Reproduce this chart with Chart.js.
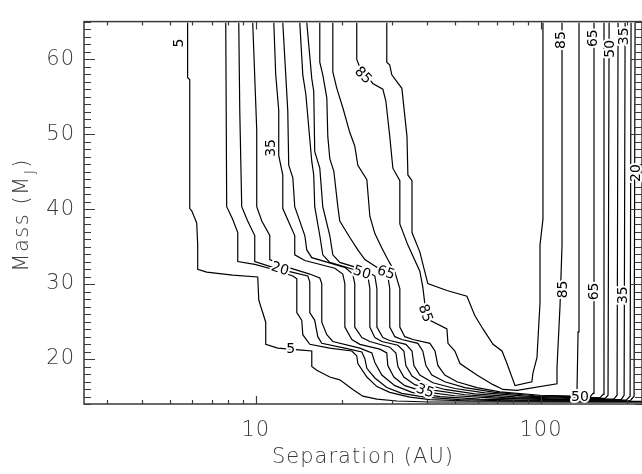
<!DOCTYPE html>
<html>
<head>
<meta charset="utf-8">
<script src="https://cdn.jsdelivr.net/npm/chart.js@4.4.1/dist/chart.umd.min.js"></script>
<style>
html, body { margin: 0; padding: 0; background: #fff; }
#chart { display: block; }
</style>
</head>
<body>
<canvas id="chart" width="642" height="474"></canvas>
<script>
// contour levels (percent) and their paths as [separation AU, mass MJ]
const levels = [5, 12.5, 20, 27.5, 35, 42.5, 50, 57.5, 65, 75, 85, 95];

const c5 = [[5.77,64.84],[5.77,57.52],[5.87,57.27],[5.87,40.06],[5.96,39.81],[6.21,38.14],[6.26,35.19],[6.26,31.97],[6.73,31.59],[8.30,31.2],[10.16,30.94],[10.25,27.86],[10.84,24.91],[10.84,21.96],[11.94,21.45],[14.5,21.19],[15.72,21.07],[15.72,19.01],[16.37,18.5],[18.18,17.6],[19.71,17.22],[21.89,15.94],[23.74,15.04],[26.59,14.65],[31.25,14.4],[40.8,14.27],[226,14.24]];
const c12_5 = [[7.85,64.84],[7.91,40.32],[8.30,38.65],[8.65,36.86],[8.65,33.0],[9.92,32.62],[11.47,31.97],[13.49,31.07],[13.93,30.69],[13.93,26.19],[14.5,25.16],[14.62,23.24],[15.47,21.96],[18.18,21.45],[21.72,21.07],[22.6,20.43],[22.8,19.4],[24.52,17.6],[26.59,16.32],[29.5,15.55],[34.7,14.91],[40.8,14.59],[56.4,14.4],[226,14.35]];
const c20 = [[8.72,64.84],[8.79,53.16],[8.93,40.32],[9.37,38.4],[9.92,36.47],[9.92,33.0],[11.2,32.36],[13.38,31.59],[15.22,31.07],[15.47,30.3],[15.47,26.19],[16.1,25.16],[16.5,22.98],[17.04,22.09],[20.53,21.45],[23.55,20.94],[24.13,20.04],[24.52,18.76],[26.16,17.47],[28.8,16.19],[32.53,15.42],[39.2,14.91],[52.0,14.59],[71.8,14.46],[205.3,14.43],[212,15.04],[213.7,64.84]];
const c27_5 = [[9.76,64.84],[10.08,50.59],[10.08,40.32],[10.5,38.4],[11.2,36.47],[11.2,33.26],[12.64,32.36],[15.47,31.33],[16.77,30.81],[17.04,30.05],[17.04,24.91],[17.75,23.24],[18.63,22.34],[23.17,21.45],[25.53,20.81],[26.16,19.53],[27.67,17.86],[30.74,16.45],[35.3,15.55],[44.2,14.98],[61.1,14.65],[84.4,14.51],[198.7,14.51],[205.3,15.04],[206.9,64.84]];
const c35 = [[11.57,64.84],[11.75,57.9],[12.04,53.16],[12.04,47.12],[12.44,44.55],[12.44,40.06],[13.7,36.47],[13.7,33.9],[14.86,33.13],[18.93,32.1],[20.19,31.33],[20.53,30.05],[20.53,24.27],[21.72,22.6],[23.17,21.96],[27.23,21.32],[28.8,20.81],[29.04,19.14],[30.5,17.6],[33.3,16.45],[39.2,15.62],[49.9,15.1],[69.0,14.78],[107.6,14.59],[190.9,14.59],[195.6,15.17],[197.2,64.84]];
const c42_5 = [[12.44,64.84],[12.74,57.9],[12.95,53.16],[13.05,45.84],[13.49,44.17],[13.7,40.32],[14.86,36.47],[15.1,34.55],[15.72,33.52],[20.53,32.23],[21.89,31.33],[22.24,30.05],[22.24,24.27],[23.55,22.85],[25.12,22.34],[29.5,21.58],[31.0,20.81],[31.5,19.01],[33.06,17.6],[36.1,16.58],[42.5,15.81],[54.1,15.23],[74.8,14.85],[116.6,14.67],[180.3,14.67],[184.8,15.17],[186.3,64.84]];
const c50 = [[14.27,64.84],[14.62,57.9],[14.98,55.34],[15.72,46.35],[15.97,44.55],[16.1,40.32],[16.77,36.47],[17.18,33.9],[18.18,32.88],[21.89,31.97],[24.72,31.07],[25.12,29.4],[25.12,24.27],[26.16,22.85],[27.67,22.34],[31.5,21.83],[33.06,21.07],[33.6,19.14],[35.3,17.73],[38.87,16.7],[46.0,15.94],[58.6,15.36],[81.1,14.94],[126.4,14.76],[167.7,14.76],[171.8,15.17],[173.3,64.84]];
const c57_5 = [[15.1,64.84],[15.72,57.39],[15.97,55.72],[16.1,47.64],[16.77,45.45],[17.18,40.32],[18.18,36.47],[18.63,33.9],[19.71,32.88],[24.13,31.85],[26.16,31.07],[26.59,29.4],[26.59,24.27],[27.9,22.85],[29.5,22.47],[33.6,21.96],[35.3,21.07],[35.85,19.14],[37.6,17.86],[41.8,16.83],[49.9,16.07],[63.6,15.49],[87.9,15.04],[131.5,14.85],[161.1,14.85],[165.1,15.29],[166.3,64.84]];
const c65 = [[16.77,64.84],[16.77,59.58],[17.18,57.9],[17.75,54.83],[17.89,49.69],[18.18,46.73],[18.78,45.07],[19.4,40.32],[19.71,38.4],[21.37,36.21],[22.8,34.55],[24.13,33.26],[27.23,31.97],[29.04,31.07],[29.5,29.4],[29.5,24.27],[30.74,22.98],[32.53,22.6],[37.0,22.09],[38.5,21.07],[39.5,19.14],[41.45,17.86],[46.0,16.96],[54.1,16.19],[69.0,15.55],[95.2,15.1],[137,14.94],[148.6,14.94],[152.2,15.42],[153.4,64.84]];
const c75 = [[18.63,64.84],[18.63,58.29],[19.24,56.1],[20.19,53.54],[21.37,50.2],[22.24,48.41],[22.8,45.84],[24.52,43.92],[25.12,39.04],[26.16,36.73],[27.67,34.8],[29.04,33.26],[30.74,31.59],[32.0,29.4],[32.0,24.27],[33.3,22.98],[35.6,22.6],[40.8,22.09],[42.5,21.07],[43.5,19.14],[46.0,17.86],[50.75,16.96],[59.6,16.19],[71.8,15.62],[99.2,15.17],[130.6,15.04],[133.7,15.55],[134.9,23.63],[135.9,64.84]];
const c85 = [[22.6,64.84],[22.6,59.96],[23.17,58.93],[24.32,57.9],[25.73,56.75],[27.9,55.98],[28.58,54.44],[29.5,49.69],[30.25,45.45],[32.0,43.78],[32.0,38.01],[34.15,35.19],[37.6,31.72],[38.5,29.66],[39.2,27.22],[40.8,25.16],[46.8,24.01],[47.2,22.09],[49.9,21.07],[52.0,19.4],[59.6,17.86],[67.9,16.58],[73.6,15.94],[82.4,15.81],[113.8,16.7],[113.8,18.88],[116.6,27.09],[118.5,35.19],[118.5,64.84]];
const c95 = [[28.8,64.84],[28.8,59.58],[29.5,59.19],[29.99,57.9],[32.53,56.1],[33.9,49.69],[34.15,44.55],[35.3,43.78],[35.3,36.86],[37.6,34.29],[40.1,30.05],[46.8,29.14],[55.0,28.37],[58.6,25.8],[62.6,24.01],[67.9,21.96],[73.0,21.07],[76.0,19.4],[81.1,16.45],[92.9,16.96],[93.7,18.11],[96.8,20.17],[99.2,27.47],[99.2,35.19],[101.6,38.65],[101.6,64.84]];

const contours = [c5, c12_5, c20, c27_5, c35, c42_5, c50, c57_5, c65, c75, c85, c95];

// contour labels
const labelText  = ['5', '5', '20', '20', '35', '35', '35', '35', '50', '50', '50', '65', '65', '65', '85', '85', '85', '85'];
const labelSep   = [5.41, 13.27, 12.14, 215.4, 11.38, 39.2, 195.6, 193.9, 23.55, 174.6, 137, 28.58, 152.2, 153.4, 23.74, 39.2, 117.5, 119.5];
const labelMass  = [62.14, 21.32, 31.97, 44.81, 48.15, 15.68, 63.04, 28.51, 31.46, 61.37, 14.91, 31.46, 62.79, 29.02, 57.78, 26.07, 62.53, 29.28];
const labelAngle = [-90, 0, 18, -90, -90, 20, -90, -90, 18, -90, 0, 18, -90, -90, 45, 70, -90, -90];

// axis ticks
const xTickLabels = [10, 100];
const xMinorTicks = [3, 4, 5, 6, 7, 8, 9, 20, 30, 40, 50, 60, 70, 80, 90, 200];
const yTickLabels = [20, 30, 40, 50, 60];

const FONT = "'DejaVu Sans', sans-serif";
const INK = '#3a3a3a';

const datasets = contours.map((pts, i) => ({
    label: levels[i] + '%',
    data: pts.map(p => ({ x: p[0], y: p[1] })),
    showLine: true,
    borderColor: '#000',
    borderWidth: 1.2,
    pointRadius: 0,
    fill: false,
    tension: 0
}));

const spacingPlugin = {
    id: 'spacing',
    beforeDraw(chart) { chart.ctx.letterSpacing = '1px'; }
};

const framePlugin = {
    id: 'frame',
    afterDatasetsDraw(chart) {
        const { ctx, chartArea: a, scales: { x, y } } = chart;
        ctx.save();
        ctx.strokeStyle = INK;
        ctx.lineWidth = 1.5;
        ctx.strokeRect(a.left, a.top, a.right - a.left, a.bottom - a.top);
        ctx.lineWidth = 1.2;
        ctx.beginPath();
        // y ticks every 1 MJ, both sides, pointing inward
        for (let v = Math.ceil(y.min); v <= y.max; v++) {
            const py = Math.round(y.getPixelForValue(v)) + 0.5;
            const len = v % 10 === 0 ? 11 : 7;
            ctx.moveTo(a.left, py); ctx.lineTo(a.left + len, py);
            ctx.moveTo(a.right, py); ctx.lineTo(a.right - len, py);
        }
        // x ticks, top and bottom
        xTickLabels.concat(xMinorTicks).forEach(v => {
            const px = Math.round(x.getPixelForValue(v)) + 0.5;
            const len = xTickLabels.includes(v) ? 8 : 4;
            ctx.moveTo(px, a.bottom); ctx.lineTo(px, a.bottom - len);
            ctx.moveTo(px, a.top); ctx.lineTo(px, a.top + len);
        });
        ctx.stroke();

        // contour labels
        ctx.letterSpacing = '0px';
        ctx.font = '14px ' + FONT;
        ctx.textAlign = 'center';
        ctx.textBaseline = 'middle';
        ctx.lineJoin = 'round';
        labelText.forEach((t, i) => {
            const px = x.getPixelForValue(labelSep[i]);
            const py = y.getPixelForValue(labelMass[i]);
            ctx.save();
            ctx.translate(px, py);
            ctx.rotate(labelAngle[i] * Math.PI / 180);
            ctx.strokeStyle = '#fff';
            ctx.lineWidth = 4;
            ctx.strokeText(t, 0, 0);
            ctx.fillStyle = '#000';
            ctx.fillText(t, 0, 0);
            ctx.restore();
        });

        // y axis title with subscript
        ctx.save();
        ctx.letterSpacing = '1.5px';
        ctx.translate(28, (a.top + a.bottom) / 2 + 2);
        ctx.rotate(-Math.PI / 2);
        ctx.fillStyle = INK;
        ctx.textAlign = 'left';
        ctx.textBaseline = 'alphabetic';
        const big = '200 21px ' + FONT;
        const small = '200 14px ' + FONT;
        ctx.font = big;
        const main = 'Mass (M';
        const wMain = ctx.measureText(main).width;
        ctx.font = small;
        const wSub = ctx.measureText('J').width;
        ctx.font = big;
        const wEnd = ctx.measureText(')').width;
        const x0 = -(wMain + wSub + 2 + wEnd) / 2;
        ctx.fillText(main, x0, 0);
        ctx.font = small;
        ctx.fillText('J', x0 + wMain + 1, 6);
        ctx.font = big;
        ctx.fillText(')', x0 + wMain + wSub + 2, 0);
        ctx.restore();
        ctx.restore();
    }
};

new Chart(document.getElementById('chart'), {
    type: 'scatter',
    data: { datasets },
    options: {
        responsive: false,
        animation: false,
        devicePixelRatio: 1,
        layout: { padding: { top: 9, right: 0, left: 0, bottom: 0 } },
        plugins: { legend: { display: false }, tooltip: { enabled: false } },
        scales: {
            x: {
                type: 'logarithmic',
                min: 2.5,
                max: 226,
                grid: { display: false, drawTicks: false },
                border: { display: false },
                afterBuildTicks: s => { s.ticks = xTickLabels.map(v => ({ value: v })); },
                afterFit: s => { s.height = 70; },
                ticks: {
                    color: INK,
                    padding: 14,
                    maxRotation: 0,
                    font: { family: FONT, size: 21, weight: 200 },
                    callback: v => String(v)
                },
                title: {
                    display: true,
                    text: 'Separation (AU)',
                    color: INK,
                    font: { family: FONT, size: 21, weight: 200 },
                    padding: { top: 0 }
                }
            },
            y: {
                type: 'linear',
                min: 14,
                max: 65,
                grid: { display: false, drawTicks: false },
                border: { display: false },
                afterBuildTicks: s => { s.ticks = yTickLabels.map(v => ({ value: v })); },
                afterFit: s => { s.width = 84; },
                ticks: {
                    color: INK,
                    padding: 9,
                    font: { family: FONT, size: 21, weight: 200 }
                }
            }
        }
    },
    plugins: [spacingPlugin, framePlugin]
});
</script>
</body>
</html>
